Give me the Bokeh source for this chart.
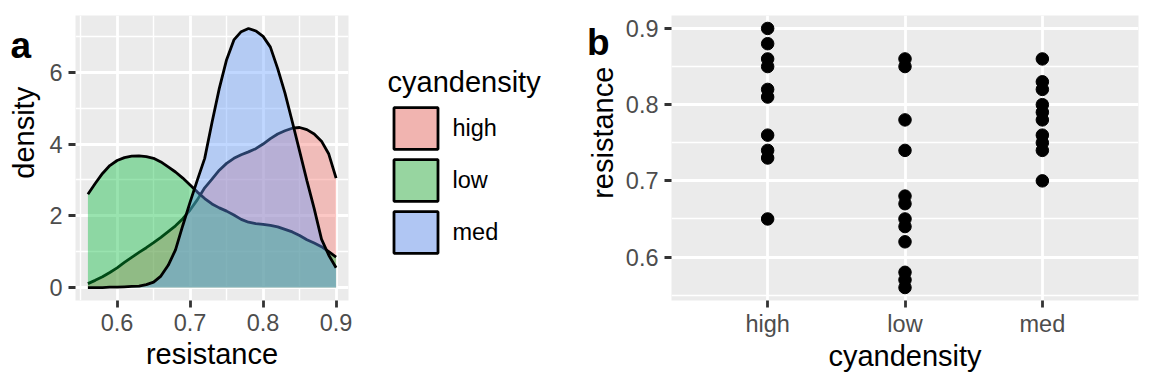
import math
from bokeh.plotting import figure
from bokeh.models import Range1d, FixedTicker, Legend, LegendItem, FactorRange
from bokeh.core.properties import value
from bokeh.layouts import row
from bokeh.embed import file_html
from bokeh.resources import INLINE

# ---------------- data ----------------
categories = ["high", "low", "med"]

high_resistance = [0.90, 0.88, 0.86, 0.85, 0.82, 0.81, 0.76, 0.74, 0.73, 0.65]
low_resistance = [0.86, 0.85, 0.78, 0.74, 0.68, 0.67, 0.65, 0.64, 0.62, 0.58, 0.57, 0.56]
med_resistance = [0.86, 0.83, 0.82, 0.80, 0.79, 0.78, 0.76, 0.75, 0.74, 0.70]

density_x = [0.56, 0.57, 0.58, 0.59, 0.60, 0.61, 0.62, 0.63, 0.64, 0.65, 0.66, 0.67,
             0.68, 0.69, 0.70, 0.71, 0.72, 0.73, 0.74, 0.75, 0.76, 0.77, 0.78, 0.79,
             0.80, 0.81, 0.82, 0.83, 0.84, 0.85, 0.86, 0.87, 0.88, 0.89, 0.90]
density_high = [0.11, 0.20, 0.30, 0.42, 0.55, 0.70, 0.84, 0.98, 1.11, 1.25, 1.40, 1.56,
                1.72, 1.92, 2.16, 2.45, 2.78, 3.02, 3.27, 3.46, 3.60, 3.70, 3.78, 3.87,
                4.00, 4.15, 4.28, 4.37, 4.44, 4.46, 4.40, 4.28, 4.08, 3.72, 3.05]
density_low = [2.60, 2.90, 3.18, 3.40, 3.54, 3.62, 3.66, 3.67, 3.65, 3.60, 3.50, 3.36,
               3.22, 3.05, 2.86, 2.66, 2.48, 2.33, 2.22, 2.13, 2.02, 1.90, 1.82, 1.78,
               1.76, 1.73, 1.69, 1.62, 1.55, 1.45, 1.33, 1.24, 1.14, 1.00, 0.85]
density_med = [0.00, 0.00, 0.00, 0.01, 0.01, 0.02, 0.03, 0.04, 0.08, 0.15, 0.32, 0.62,
               1.05, 1.73, 2.38, 3.00, 3.60, 4.60, 5.55, 6.35, 6.90, 7.13, 7.22, 7.15,
               7.00, 6.70, 6.10, 5.42, 4.62, 3.80, 2.98, 2.20, 1.35, 0.90, 0.55]

x_ticks_a = [0.6, 0.7, 0.8, 0.9]
x_minor_a = [0.55, 0.65, 0.75, 0.85]
y_ticks_a = [0, 2, 4, 6]
y_minor_a = [1, 3, 5, 7]
y_ticks_b = [0.6, 0.7, 0.8, 0.9]
y_minor_b = [0.55, 0.65, 0.75, 0.85]

group_colors = {"high": "#F8766D", "low": "#00BA38", "med": "#619CFF"}
legend_colors = {"high": "#F1B4B0", "low": "#97D5A0", "med": "#B0C6F3"}

FONT = "Liberation Sans"
PANEL_BG = "#EBEBEB"
LW = 2.8
H = 384


def style(p):
    p.background_fill_color = PANEL_BG
    p.border_fill_color = "white"
    p.outline_line_color = None
    for ax in p.axis:
        ax.axis_line_color = None
        ax.major_tick_line_color = "#333333"
        ax.major_tick_line_width = LW
        ax.major_tick_in = 0
        ax.major_tick_out = 7
        ax.minor_tick_line_color = None
        ax.major_label_text_font = FONT
        ax.major_label_text_font_size = "23.5px"
        ax.major_label_text_color = "#4D4D4D"
        ax.major_label_standoff = 6
        ax.axis_label_text_font = FONT
        ax.axis_label_text_font_size = "29px"
        ax.axis_label_text_font_style = "normal"
        ax.axis_label_text_color = "black"
    for g in p.grid:
        g.grid_line_color = "white"
        g.grid_line_width = LW
        g.minor_grid_line_color = "white"
        g.minor_grid_line_width = 1.4


def blank(width):
    p = figure(output_backend="svg", toolbar_location=None, width=width, height=H,
               x_range=Range1d(0, width), y_range=Range1d(H, 0),
               x_axis_type=None, y_axis_type=None, min_border=0)
    p.outline_line_color = None
    p.background_fill_color = "white"
    p.border_fill_color = "white"
    return p


# ---------------- strip with tag "a" and y title ----------------
sa = blank(44)
sa.text(x=[10], y=[40], text=["a"], text_font=value(FONT), text_font_size="37px",
        text_font_style="bold", text_color="black", text_baseline="alphabetic")
sa.text(x=[23.3], y=[158], text=["density"], angle=math.pi / 2,
        text_font=value(FONT), text_font_size="29px", text_color="black",
        text_align="center", text_baseline="middle")

# ---------------- panel a ----------------
pa = figure(output_backend="svg", toolbar_location=None,
            width=309, height=H,
            x_range=Range1d(0.543, 0.917), y_range=Range1d(-0.361, 7.581),
            min_border_left=31, min_border_right=5, min_border_top=15,
            min_border_bottom=84, x_axis_label="resistance")
pa.xaxis.ticker = FixedTicker(ticks=x_ticks_a, minor_ticks=x_minor_a)
pa.yaxis.ticker = FixedTicker(ticks=y_ticks_a, minor_ticks=y_minor_a)
style(pa)
pa.xaxis.axis_label_standoff = 4

series = [("high", density_high), ("low", density_low), ("med", density_med)]
for name, dens in series:
    pa.varea(x=density_x, y1=0, y2=dens, fill_color=group_colors[name], fill_alpha=0.4)
    pa.line(x=density_x, y=dens, line_color="black", line_width=LW)

# ---------------- legend ----------------
lg = figure(output_backend="svg", toolbar_location=None, width=230, height=H,
            x_range=Range1d(0, 1), y_range=Range1d(0, 1),
            x_axis_type=None, y_axis_type=None, min_border=0)
lg.outline_line_color = None
lg.background_fill_color = "white"
lg.border_fill_color = "white"
items = []
for name, _ in series:
    # key glyph renderer, its data lies outside the visible range
    r = lg.patch(x=[5, 6, 6, 5], y=[5, 5, 6, 6],
                 fill_color=legend_colors[name], fill_alpha=1.0,
                 line_color="black", line_width=LW)
    items.append(LegendItem(label=name, renderers=[r]))

legend = Legend(items=items, location=(34.5, 42), title="cyandensity",
                title_text_font=FONT, title_text_font_size="29px",
                title_text_font_style="normal", title_text_color="black",
                title_standoff=3,
                label_text_font=FONT, label_text_font_size="23.5px",
                label_text_color="black", label_standoff=10,
                glyph_width=55, glyph_height=52, spacing=0,
                padding=0, margin=0, border_line_color=None,
                background_fill_alpha=0)
lg.add_layout(legend)

# ---------------- strip with tag "b" and y title ----------------
sb = blank(39)
sb.text(x=[3.5], y=[37], text=["b"], text_font=value(FONT), text_font_size="37px",
        text_font_style="bold", text_color="black", text_baseline="alphabetic")
sb.text(x=[19.5], y=[158], text=["resistance"], angle=math.pi / 2,
        text_font=value(FONT), text_font_size="29px", text_color="black",
        text_align="center", text_baseline="middle")

# ---------------- panel b ----------------
pb = figure(output_backend="svg", toolbar_location=None,
            width=530, height=H,
            x_range=FactorRange(factors=categories, range_padding=0.2,
                                range_padding_units="absolute"),
            y_range=Range1d(0.543, 0.917),
            min_border_left=48, min_border_right=14, min_border_top=15,
            min_border_bottom=84, x_axis_label="cyandensity")
pb.yaxis.ticker = FixedTicker(ticks=y_ticks_b, minor_ticks=y_minor_b)
style(pb)
pb.xaxis.major_label_standoff = 3
pb.xaxis.axis_label_standoff = 0

for name, vals in [("high", high_resistance), ("low", low_resistance), ("med", med_resistance)]:
    pb.scatter(x=[name] * len(vals), y=vals, size=12.5, color="black")

layout = row(sa, pa, lg, sb, pb)
open("out.html", "w").write(file_html(layout, INLINE))
